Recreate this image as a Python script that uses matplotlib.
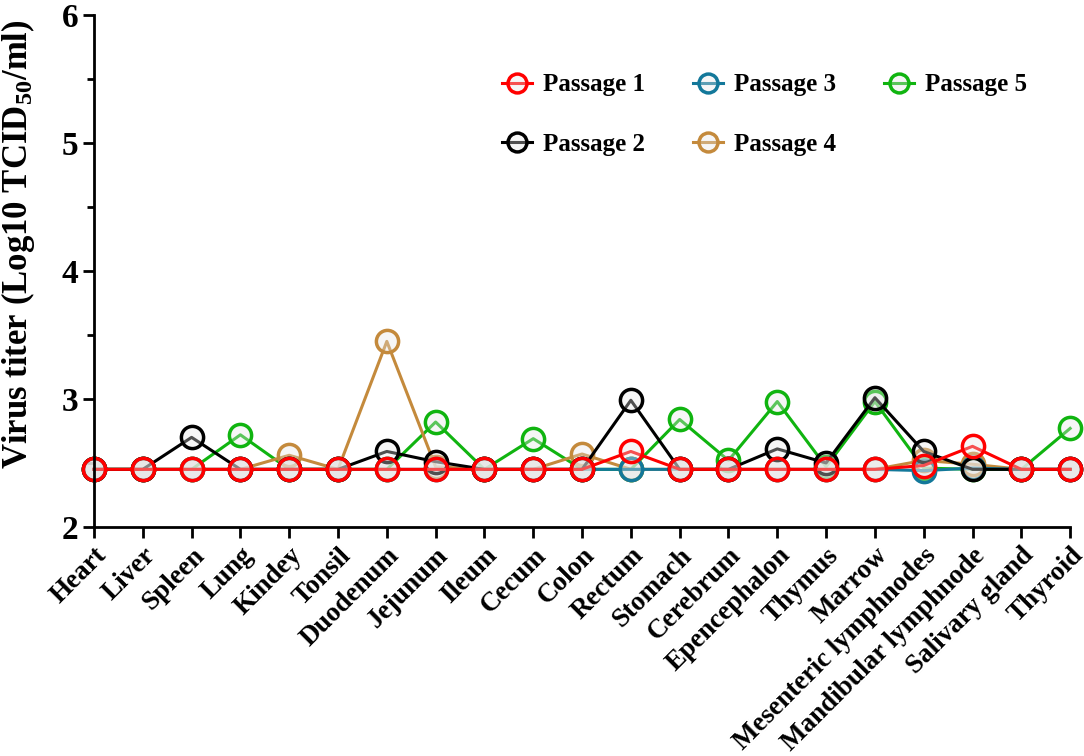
import matplotlib
matplotlib.use('Agg')
import matplotlib.pyplot as plt
import numpy as np

plt.rcParams['font.family'] = ['Liberation Serif', 'DejaVu Serif']
plt.rcParams['font.weight'] = 'bold'
plt.rcParams['mathtext.fontset'] = 'custom'
plt.rcParams['mathtext.rm'] = 'Liberation Serif:bold'
plt.rcParams['mathtext.bf'] = 'Liberation Serif:bold'
plt.rcParams['mathtext.default'] = 'bf'

# 组织名称
tissues = ['Heart', 'Liver', 'Spleen', 'Lung', 'Kindey', 'Tonsil', 'Duodenum', 'Jejunum',
           'Ileum', 'Cecum', 'Colon', 'Rectum', 'Stomach', 'Cerebrum', 'Epencephalon',
           'Thymus', 'Marrow', 'Mesenteric lymphnodes', 'Mandibular lymphnode',
           'Salivary gland', 'Thyroid']

# 各代病毒滴度
passage1 = [2.45, 2.45, 2.45, 2.45, 2.45, 2.45, 2.45, 2.45, 2.45, 2.45, 2.45,
            2.59, 2.45, 2.45, 2.45, 2.45, 2.45, 2.48, 2.63, 2.45, 2.45]
passage2 = [2.45, 2.45, 2.70, 2.45, 2.45, 2.45, 2.59, 2.51, 2.45, 2.45, 2.45,
            2.99, 2.45, 2.45, 2.61, 2.50, 3.01, 2.59, 2.45, 2.45, 2.45]
passage3 = [2.45, 2.45, 2.45, 2.45, 2.45, 2.45, 2.45, 2.45, 2.45, 2.45, 2.45,
            2.45, 2.45, 2.45, 2.45, 2.45, 2.45, 2.44, 2.46, 2.45, 2.45]
passage4 = [2.45, 2.45, 2.45, 2.45, 2.56, 2.45, 3.45, 2.47, 2.45, 2.45, 2.57,
            2.45, 2.45, 2.45, 2.45, 2.45, 2.45, 2.52, 2.49, 2.45, 2.45]
passage5 = [2.45, 2.45, 2.45, 2.72, 2.45, 2.45, 2.45, 2.82, 2.45, 2.69, 2.45,
            2.45, 2.84, 2.52, 2.98, 2.47, 2.98, 2.46, 2.45, 2.45, 2.77]

series = {
    'Passage 1': (passage1, '#ff0000'),
    'Passage 2': (passage2, '#000000'),
    'Passage 3': (passage3, '#13789a'),
    'Passage 4': (passage4, '#c48a3c'),
    'Passage 5': (passage5, '#10b410'),
}
draw_order = ['Passage 5', 'Passage 4', 'Passage 3', 'Passage 2', 'Passage 1']

fig = plt.figure(figsize=(10.84, 7.56), dpi=100)
ax = fig.add_axes([0.0867, 0.303, 0.9005, 0.677])

x = np.arange(len(tissues))
handles = {}
for name in draw_order:
    vals, col = series[name]
    h, = ax.plot(x, vals, '-o', color=col, lw=2.2, ms=16, mew=2.5,
                 mfc=(0.9, 0.9, 0.9, 0.35), mec=col, label=name, clip_on=False)
    handles[name] = h

ax.set_xlim(0, len(tissues) - 1)
ax.set_ylim(2, 6)
ax.set_yticks([2, 3, 4, 5, 6])
ax.set_yticks([2.5, 3.5, 4.5, 5.5], minor=True)
ax.set_xticks(x)
ax.set_xticklabels(tissues, rotation=45, ha='right', rotation_mode='anchor',
                   fontsize=19.5, fontweight='bold')
ax.tick_params(axis='y', labelsize=24, width=2, length=8, direction='out')
ax.tick_params(axis='y', which='minor', width=2, length=5)
ax.tick_params(axis='x', width=2, length=8, direction='out')
for s in ['top', 'right']:
    ax.spines[s].set_visible(False)
for s in ['left', 'bottom']:
    ax.spines[s].set_linewidth(2)

ax.set_ylabel('Virus titer (Log10 TCID$_{50}$/ml)', fontsize=25, fontweight='bold')
ax.yaxis.set_label_coords(-0.058, 0.553)

names = ['Passage 1', 'Passage 2', 'Passage 3', 'Passage 4', 'Passage 5']
ax.legend([handles[n] for n in names], names, ncol=3, frameon=False,
          loc='upper left', bbox_to_anchor=(0.395, 0.93),
          prop={'size': 18, 'weight': 'bold'}, labelspacing=1.45,
          columnspacing=1.9, handlelength=1.2, handletextpad=0.45, markerscale=0.85)

fig.savefig('out.png', dpi=100)
